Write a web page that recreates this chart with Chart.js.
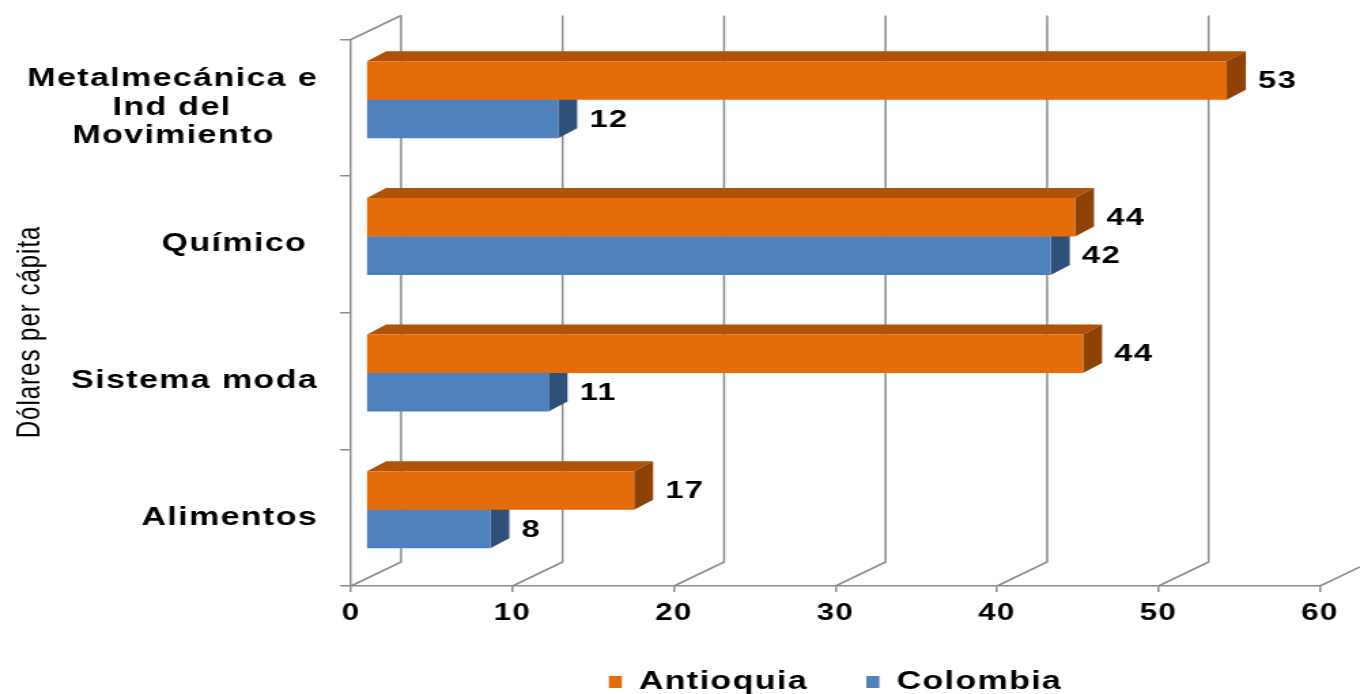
<!DOCTYPE html>
<html>
<head>
<meta charset="utf-8">
<script src="https://cdn.jsdelivr.net/npm/chart.js@4.4.1/dist/chart.umd.min.js"></script>
<style>
  html, body { margin: 0; padding: 0; background: #fff; overflow: hidden; }
</style>
</head>
<body>
<canvas id="chart" width="1000" height="710" style="display:block;width:1360px;height:710px"></canvas>
<script>
// categories, top to bottom
const categories = [
  ["Metalmecánica e", "Ind del        ", "Movimiento    "],
  "Químico ",
  "Sistema moda",
  "Alimentos",
];
const seriesNames = ["Antioquia", "Colombia"];
const antioquia = [53.3, 43.9, 44.4, 16.6];
const colombia = [11.9, 42.4, 11.3, 7.7];
const xTicks = [0, 10, 20, 30, 40, 50, 60];
const axisTitle = "Dólares per cápita     ";

// colours: front, top, side
const orange = ["#E46C0A", "#B0520A", "#8F4205"];
const blue = ["#4F81BD", "#3A6296", "#2F5079"];
const gridGray = "#8C8C8C";
const font = "'Liberation Sans', Arial, sans-serif";

// 3d offsets (canvas px, the canvas is stretched 1.36x wide by css)
const wall = { dx: 36.8, dy: -24 };
const plane = { dx: 11, dy: -8 };
const depth = { dx: 14, dy: -10 };

const spacing = {
  id: "spacing",
  beforeLayout(chart) {
    chart.ctx.letterSpacing = "1px";
  },
  beforeDraw(chart) {
    chart.ctx.letterSpacing = "1px";
  },
};

const bars3d = {
  id: "bars3d",
  beforeDatasetsDraw(chart) {
    const { ctx, chartArea } = chart;
    const x = chart.scales.x;

    // back wall + floor lines
    ctx.save();
    ctx.strokeStyle = gridGray;
    ctx.lineWidth = 1.5;
    ctx.beginPath();
    ctx.moveTo(chartArea.left, chartArea.top);
    ctx.lineTo(chartArea.left + wall.dx, chartArea.top + wall.dy);
    xTicks.forEach((v) => {
      const px = x.getPixelForValue(v);
      ctx.moveTo(px + wall.dx, chartArea.top + wall.dy);
      ctx.lineTo(px + wall.dx, chartArea.bottom + wall.dy);
      ctx.lineTo(px, chartArea.bottom);
    });
    ctx.stroke();
    ctx.restore();

    // shift bars into the middle of the depth
    ctx.save();
    ctx.translate(plane.dx, plane.dy);

    // top and side faces, colombia first so antioquia covers it
    [1, 0].forEach((di) => {
      const cols = di === 0 ? orange : blue;
      chart.getDatasetMeta(di).data.forEach((bar) => {
        const p = bar.getProps(["x", "y", "base", "height"], true);
        const top = p.y - p.height / 2;
        const bottom = p.y + p.height / 2;
        ctx.fillStyle = cols[1];
        ctx.beginPath();
        ctx.moveTo(p.base, top);
        ctx.lineTo(p.base + depth.dx, top + depth.dy);
        ctx.lineTo(p.x + depth.dx, top + depth.dy);
        ctx.lineTo(p.x, top);
        ctx.closePath();
        ctx.fill();
        ctx.fillStyle = cols[2];
        ctx.beginPath();
        ctx.moveTo(p.x, top);
        ctx.lineTo(p.x + depth.dx, top + depth.dy);
        ctx.lineTo(p.x + depth.dx, bottom + depth.dy);
        ctx.lineTo(p.x, bottom);
        ctx.closePath();
        ctx.fill();
      });
    });
  },
  afterDatasetsDraw(chart) {
    const { ctx } = chart;
    // value labels
    ctx.fillStyle = "#000";
    ctx.font = "bold 24px " + font;
    ctx.textAlign = "left";
    ctx.textBaseline = "middle";
    [0, 1].forEach((di) => {
      const values = chart.data.datasets[di].data;
      chart.getDatasetMeta(di).data.forEach((bar, i) => {
        const p = bar.getProps(["x", "y"], true);
        ctx.fillText(String(Math.round(values[i])), p.x + depth.dx + 9, p.y + 1);
      });
    });
    ctx.restore();
  },
};

new Chart(document.getElementById("chart"), {
  type: "bar",
  data: {
    labels: categories,
    datasets: [
      {
        label: seriesNames[0],
        data: antioquia,
        backgroundColor: orange[0],
        borderWidth: 0,
        clip: false,
      },
      {
        label: seriesNames[1],
        data: colombia,
        backgroundColor: blue[0],
        borderWidth: 0,
        clip: false,
      },
    ],
  },
  options: {
    indexAxis: "y",
    responsive: false,
    animation: false,
    devicePixelRatio: 1,
    categoryPercentage: 0.563,
    barPercentage: 1,
    layout: { padding: { left: 0, right: 29.4, top: 39.5, bottom: 5.5 } },
    scales: {
      x: {
        min: 0,
        max: 60,
        afterFit(s) {
          s.height = 40.5;
          s.paddingLeft = 0;
          s.paddingRight = 0;
        },
        ticks: {
          stepSize: 10,
          padding: 8,
          color: "#000",
          font: { family: font, size: 23, weight: "bold" },
        },
        grid: {
          drawOnChartArea: false,
          drawTicks: true,
          tickLength: 6,
          color: gridGray,
          lineWidth: 1.5,
        },
        border: { display: true, color: gridGray, width: 1.5 },
      },
      y: {
        afterFit(s) {
          s.width = 258.1;
          s.paddingTop = 0;
          s.paddingBottom = 0;
        },
        ticks: {
          autoSkip: false,
          padding: 16.3,
          color: "#000",
          font: { family: font, size: 25, weight: "bold", lineHeight: 1.14 },
        },
        grid: {
          offset: true,
          drawOnChartArea: false,
          drawTicks: true,
          tickLength: 8,
          color: gridGray,
          lineWidth: 1.5,
        },
        border: { display: true, color: gridGray, width: 1.5 },
        title: {
          display: true,
          text: axisTitle,
          color: "#000",
          padding: { top: 8.4, bottom: 0 },
          font: { family: font, size: 24, weight: "normal" },
        },
      },
    },
    plugins: {
      legend: {
        position: "bottom",
        fullSize: false,
        labels: {
          boxWidth: 9.6,
          boxHeight: 12,
          padding: 43,
          color: "#000",
          font: { family: font, size: 25, weight: "bold" },
        },
      },
      tooltip: { enabled: false },
    },
  },
  plugins: [spacing, bars3d],
});
</script>
</body>
</html>
